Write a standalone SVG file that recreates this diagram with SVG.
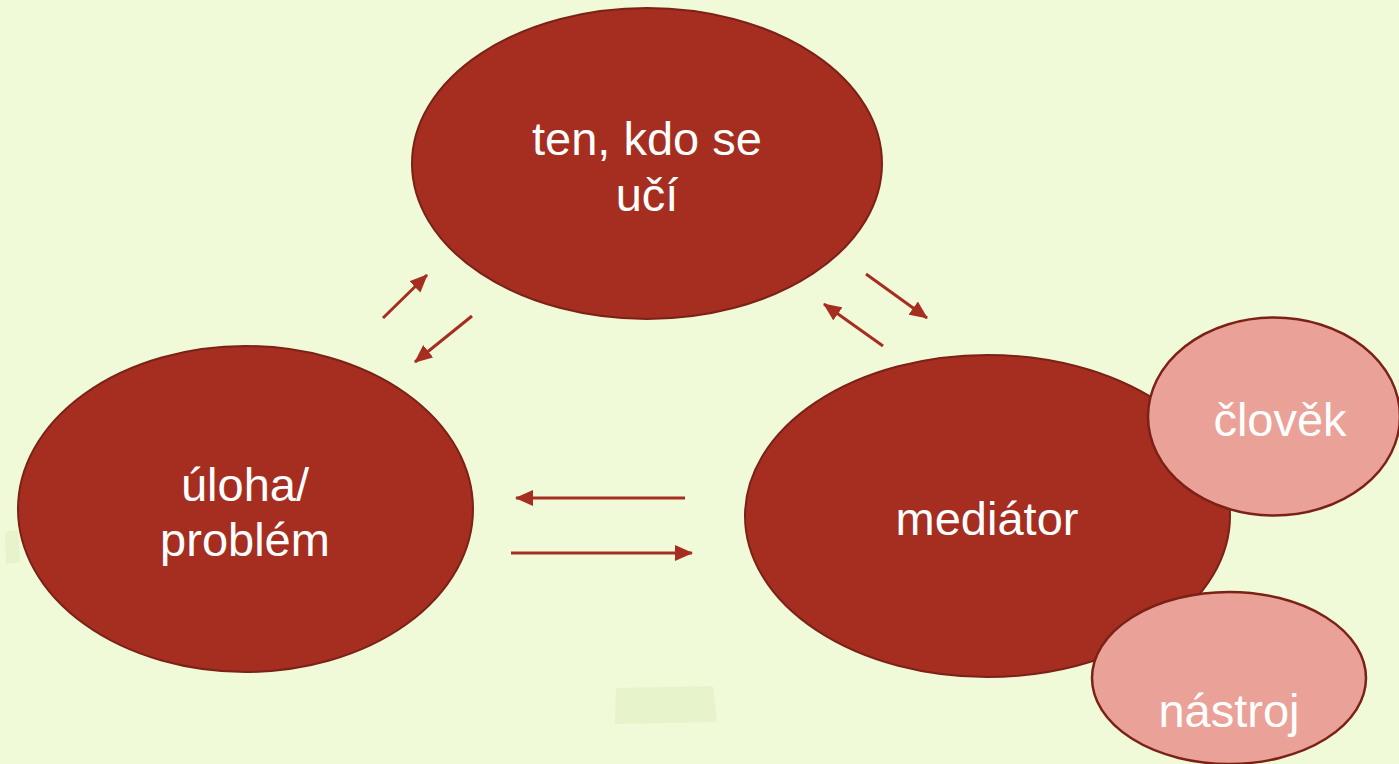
<svg xmlns="http://www.w3.org/2000/svg" width="1399" height="764" viewBox="0 0 1399 764">
<style>
.big{fill:#a52e20;stroke:#7b2116;stroke-width:2}
.small{fill:#eaa298;stroke:#7b2116;stroke-width:2.5}
.t{font-family:"Liberation Sans",Arial,sans-serif;font-size:47px;fill:#ffffff;text-anchor:middle}
.c{stroke:#a52e20;stroke-width:3;fill:none;marker-end:url(#ah)}
</style>
<defs>
<marker id="ah" markerUnits="userSpaceOnUse" markerWidth="20" markerHeight="16" refX="17" refY="8" orient="auto" viewBox="0 0 20 16">
<path d="M0,0 L18,8 L0,16 Z" fill="#a52e20"/>
</marker>
</defs>
<rect width="1399" height="764" fill="#f0fad8"/>
<path d="M616,688 L713,686 L717,722 L615,724 Z" fill="#e6f3cb"/>
<path d="M5,532 L18,530 L20,562 L6,564 Z" fill="#e6f3cb"/>
<g id="learner">
<ellipse class="big" cx="647" cy="163.5" rx="235" ry="155.5"/>
<text class="t" x="647" y="155">ten, kdo se</text>
<text class="t" x="647" y="211">učí</text>
</g>
<g id="task">
<ellipse class="big" cx="245.5" cy="509" rx="227.5" ry="163"/>
<text class="t" x="245" y="501">úloha/</text>
<text class="t" x="245" y="556">problém</text>
</g>
<g id="mediator">
<ellipse class="big" cx="987.5" cy="516" rx="242.5" ry="161"/>
<text class="t" x="987" y="535">mediátor</text>
</g>
<g id="clovek">
<ellipse class="small" cx="1274" cy="416.5" rx="126" ry="99"/>
<text class="t" x="1280" y="436">člověk</text>
</g>
<g id="nastroj">
<ellipse class="small" cx="1229" cy="678" rx="137" ry="86"/>
<text class="t" x="1229" y="727">nástroj</text>
</g>
<g id="connectors">
<line class="c" x1="383" y1="318" x2="427" y2="275"/>
<line class="c" x1="472" y1="316" x2="415" y2="362"/>
<line class="c" x1="866" y1="274" x2="927" y2="318"/>
<line class="c" x1="883" y1="346" x2="824" y2="304"/>
<line class="c" x1="685" y1="498" x2="516" y2="498"/>
<line class="c" x1="511" y1="553" x2="692" y2="553"/>
</g>
</svg>
